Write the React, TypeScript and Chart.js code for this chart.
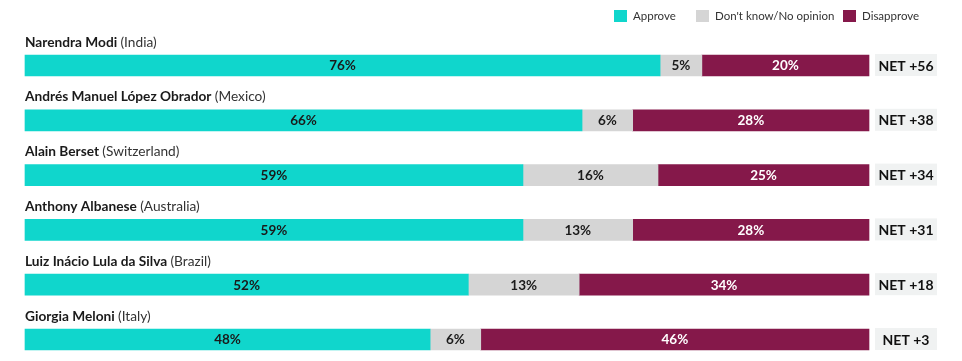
import React, { useEffect, useRef } from "react";
import { Chart, registerables } from "chart.js";

Chart.register(...registerables);

const leaders = [
  "Narendra Modi",
  "Andrés Manuel López Obrador",
  "Alain Berset",
  "Anthony Albanese",
  "Luiz Inácio Lula da Silva",
  "Giorgia Meloni",
];
const countries = ["(India)", "(Mexico)", "(Switzerland)", "(Australia)", "(Brazil)", "(Italy)"];
const approve = [76, 66, 59, 59, 52, 48];
const dontKnow = [5, 6, 16, 13, 13, 6];
const disapprove = [20, 28, 25, 28, 34, 46];
const netLabels = ["NET +56", "NET +38", "NET +34", "NET +31", "NET +18", "NET +3"];
const seriesNames = ["Approve", "Don't know/No opinion", "Disapprove"];
const seriesColors = ["#10d6cc", "#d5d5d5", "#85184a"];
const valueColors = ["#1a1a1a", "#1a1a1a", "#ffffff"];

const FONT = "Lato, 'Open Sans', sans-serif";

export default function App() {
  const ref = useRef<HTMLCanvasElement | null>(null);

  useEffect(() => {
    if (!ref.current) return;
    const totals = approve.map((a, i) => a + dontKnow[i] + disapprove[i]);
    const raw = [approve, dontKnow, disapprove];

    const overlay = {
      id: "overlay",
      afterDatasetsDraw(chart: any) {
        const ctx = chart.ctx;
        ctx.save();
        // value labels
        raw.forEach((arr, di) => {
          const meta = chart.getDatasetMeta(di);
          meta.data.forEach((bar: any, i: number) => {
            const x = (bar.base + bar.x) / 2;
            ctx.font = `bold 13.5px ${FONT}`;
            ctx.fillStyle = valueColors[di];
            ctx.textAlign = "center";
            ctx.textBaseline = "middle";
            ctx.fillText(arr[i] + "%", x, bar.y + 0.5);
          });
        });
        // row labels and NET boxes
        const meta0 = chart.getDatasetMeta(0);
        meta0.data.forEach((bar: any, i: number) => {
          const top = bar.y - 10.5;
          ctx.textAlign = "left";
          ctx.textBaseline = "alphabetic";
          ctx.font = `bold 13.7px ${FONT}`;
          ctx.fillStyle = "#1a1a1a";
          ctx.fillText(leaders[i], 25, top - 8.5);
          const w = ctx.measureText(leaders[i] + " ").width;
          ctx.font = `13.7px ${FONT}`;
          ctx.fillStyle = "#333333";
          ctx.fillText(countries[i], 25 + w, top - 8.5);
          // NET box
          ctx.fillStyle = "#f0f2f2";
          ctx.fillRect(875, top - 1, 62, 22);
          ctx.font = `bold 14px ${FONT}`;
          ctx.fillStyle = "#111111";
          ctx.textAlign = "center";
          ctx.textBaseline = "middle";
          ctx.fillText(netLabels[i], 906, bar.y + 0.5);
        });
        // legend
        const legendX = [614, 696, 843];
        seriesNames.forEach((name, k) => {
          ctx.fillStyle = seriesColors[k];
          ctx.fillRect(legendX[k], 10, 13, 12);
          ctx.font = `11.5px ${FONT}`;
          ctx.fillStyle = "#333333";
          ctx.textAlign = "left";
          ctx.textBaseline = "middle";
          ctx.fillText(name, legendX[k] + 19, 16.5);
        });
        ctx.restore();
      },
    };

    const chart = new Chart(ref.current, {
      type: "bar",
      data: {
        labels: leaders,
        datasets: raw.map((arr, di) => ({
          label: seriesNames[di],
          data: arr.map((v, i) => (v / totals[i]) * 100),
          backgroundColor: seriesColors[di],
          borderWidth: 0,
          barThickness: 21,
          clip: false as any,
        })),
      },
      options: {
        indexAxis: "y",
        animation: false,
        responsive: false,
        maintainAspectRatio: false,
        layout: { padding: { top: 65.5, bottom: 21.5, left: 25, right: 93 } },
        scales: {
          x: { stacked: true, min: 0, max: 100, display: false },
          y: { stacked: true, display: false, offset: false },
        },
        plugins: { legend: { display: false }, tooltip: { enabled: false } },
      },
      plugins: [overlay],
    });
    return () => chart.destroy();
  }, []);

  return (
    <div style={{ position: "fixed", left: 0, top: 0, width: 962, height: 361, background: "#fff" }}>
      <canvas ref={ref} width={962} height={361} style={{ width: 962, height: 361 }} />
    </div>
  );
}
